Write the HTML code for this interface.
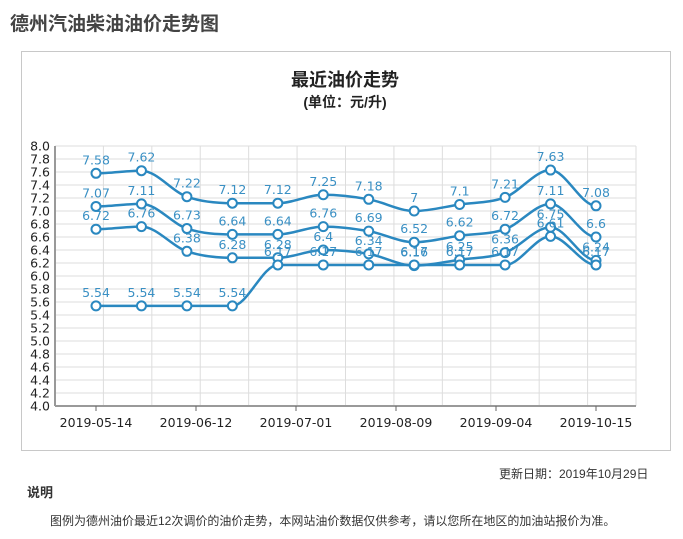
<!DOCTYPE html>
<html><head><meta charset="utf-8">
<style>
body{margin:0;width:683px;height:539px;background:#fff;font-family:"Liberation Sans","Noto Sans CJK SC",sans-serif;color:#333;position:relative;overflow:hidden}
.t{position:absolute;white-space:nowrap}
svg text{font-family:"DejaVu Sans","Noto Sans CJK SC",sans-serif}
</style></head><body>
<div class="t" style="left:10px;top:9px;font-size:19px;font-weight:bold;color:#444">德州汽油柴油油价走势图</div>
<div style="position:absolute;left:21px;top:51px;width:648px;height:398px;border:1px solid #c8c8c8"></div>
<svg style="position:absolute;left:0;top:0" width="683" height="539">
<text x="345" y="86" text-anchor="middle" font-size="18" font-weight="bold" fill="#222" style="font-family:'Liberation Sans','Noto Sans CJK SC',sans-serif">最近油价走势</text>
<text x="345" y="107" text-anchor="middle" font-size="14" font-weight="bold" fill="#222" style="font-family:'Liberation Sans','Noto Sans CJK SC',sans-serif">(单位：元/升)</text>
<g id="grid"></g><g id="axes"></g><g id="series"></g>
</svg>
<div class="t" style="left:499px;top:465px;font-size:12px">更新日期：2019年10月29日</div>
<div class="t" style="left:27px;top:482px;font-size:13px;font-weight:bold">说明</div>
<div class="t" style="left:50px;top:512px;font-size:12px">图例为德州油价最近12次调价的油价走势，本网站油价数据仅供参考，请以您所在地区的加油站报价为准。</div>
<script>
const categories=["p1","p2","p3","p4","p5","p6","p7","p8","p9","p10","p11","p12"];
const seriesA=[7.58,7.62,7.22,7.12,7.12,7.25,7.18,7,7.1,7.21,7.63,7.08];
const seriesB=[7.07,7.11,6.73,6.64,6.64,6.76,6.69,6.52,6.62,6.72,7.11,6.6];
const seriesC=[6.72,6.76,6.38,6.28,6.28,6.4,6.34,6.16,6.25,6.36,6.75,6.24];
const seriesD=[5.54,5.54,5.54,5.54,6.17,6.17,6.17,6.17,6.17,6.17,6.61,6.17];
const xTickLabels=["2019-05-14","2019-06-12","2019-07-01","2019-08-09","2019-09-04","2019-10-15"];
const yTicks=[4.0,4.2,4.4,4.6,4.8,5.0,5.2,5.4,5.6,5.8,6.0,6.2,6.4,6.6,6.8,7.0,7.2,7.4,7.6,7.8,8.0];
const NS="http://www.w3.org/2000/svg";
const L=55,R=636,T=146,B=406,yMin=4,yMax=8;
const y=v=>B-(v-yMin)/(yMax-yMin)*(B-T);
const x=i=>96+i*(596-96)/(categories.length-1);
function mk(tag,attrs,parent){const e=document.createElementNS(NS,tag);for(const k in attrs)e.setAttribute(k,attrs[k]);parent.appendChild(e);return e;}
const grid=document.getElementById('grid'),axes=document.getElementById('axes'),ser=document.getElementById('series');
yTicks.forEach(v=>{
 const g=mk('line',{x1:L,x2:R,y1:y(v),y2:y(v),stroke:'#ddd','stroke-width':1},grid);
 
 const t=mk('text',{x:L-5,y:y(v)+4.5,'text-anchor':'end','font-size':12.5,fill:'#222'},axes);
 
 t.textContent=v.toFixed(1);
});
for(let k=1;k<=12;k++){
 const gx=L+k*(R-L)/12;
 const g=mk('line',{x1:gx,x2:gx,y1:T,y2:B,stroke:'#ddd','stroke-width':1},grid);
 
}
const ya=mk('line',{x1:L,x2:L,y1:T,y2:B,stroke:'#999','stroke-width':2},axes);

const xa=mk('line',{x1:L,x2:R,y1:B,y2:B,stroke:'#999','stroke-width':2},axes);

xTickLabels.forEach((s,i)=>{
 const tx=x(0)+i*(x(categories.length-1)-x(0))/(xTickLabels.length-1);
 const tk=mk('line',{x1:tx,x2:tx,y1:B,y2:B+5,stroke:'#666'},axes);
 
 const t=mk('text',{x:tx,y:B+21,'text-anchor':'middle','font-size':12.5,fill:'#222'},axes);
 
 t.textContent=s;
});
function path(vals){
 const p=vals.map((v,i)=>[x(i),y(v)]);
 let d='M'+p[0][0]+','+p[0][1];
 const slope=i=>{
  if(i===0||i===p.length-1)return 0;
  const a=p[i][1]-p[i-1][1],b=p[i+1][1]-p[i][1];
  if(a*b<=0)return 0;
  return (p[i+1][1]-p[i-1][1])/(p[i+1][0]-p[i-1][0]);
 };
 for(let i=0;i<p.length-1;i++){
  const h=(p[i+1][0]-p[i][0])/3;
  const c1=[p[i][0]+h,p[i][1]+slope(i)*h];
  const c2=[p[i+1][0]-h,p[i+1][1]-slope(i+1)*h];
  d+=' C'+c1+' '+c2+' '+p[i+1];
 }
 return d;
}
[seriesA,seriesB,seriesC,seriesD].forEach((vals,si)=>{
 const g=mk('g',{},ser);
 
 const ln=mk('path',{d:path(vals),fill:'none',stroke:'#2a88c0','stroke-width':2.5},g);
 
 vals.forEach((v,i)=>{
  const c=mk('circle',{cx:x(i),cy:y(v),r:4.5,fill:'#fff',stroke:'#2a88c0','stroke-width':2},g);
  
  const t=mk('text',{x:x(i),y:y(v)-9,'text-anchor':'middle','font-size':12.5,fill:'#3a90c4'},g);
  
  t.textContent=String(v);
 });
});
</script>
</body></html>
